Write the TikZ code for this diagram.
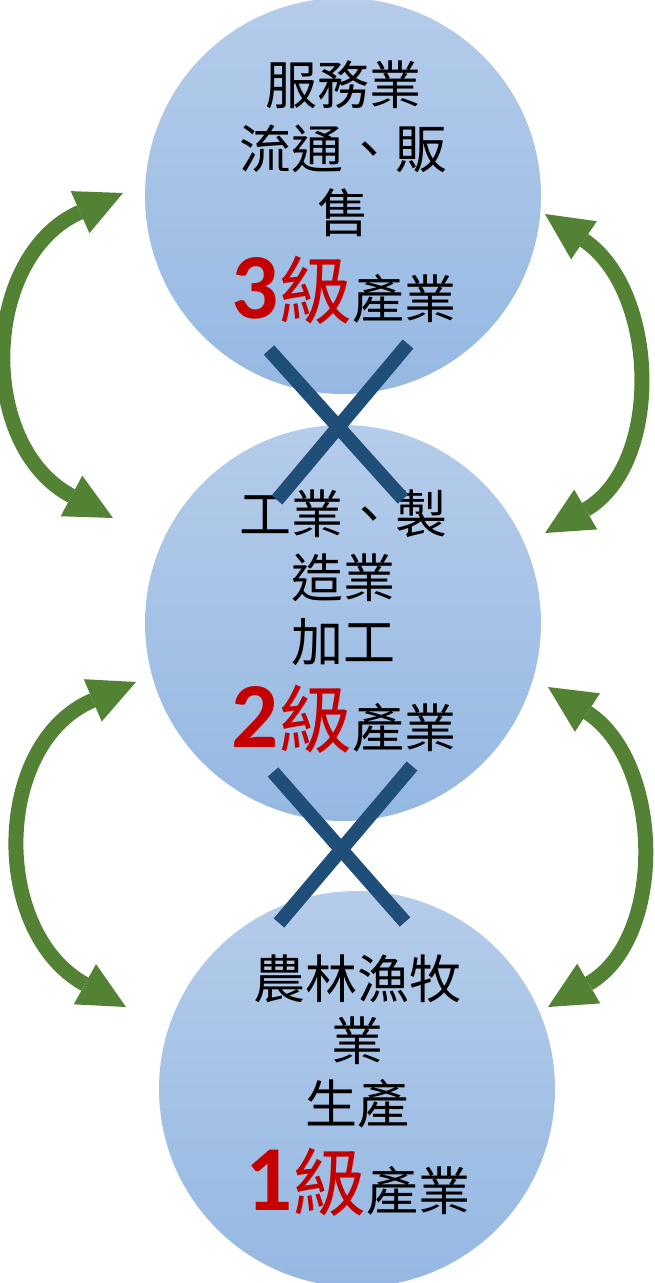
\documentclass[tikz,border=0pt]{standalone}
\usepackage{fontspec}
\newfontfamily\cjk{Noto Sans CJK TC}
\newfontfamily\digfont{Carlito}
\usetikzlibrary{arrows.meta}
\definecolor{cirtop}{RGB}{181,204,234}
\definecolor{cirbot}{RGB}{149,184,226}
\definecolor{arrgreen}{RGB}{84,130,53}
\definecolor{xblue}{RGB}{31,78,121}
\definecolor{lvred}{RGB}{196,0,0}
\newcommand{\lvl}[1]{{\color{lvred}{\digfont\bfseries\fontsize{93}{96}\selectfont #1}{\fontsize{74}{80}\selectfont 級}}}
\begin{document}
\begin{tikzpicture}[x=1pt,y=1pt,
  circ/.style={circle, minimum size=396pt, inner sep=0pt, top color=cirtop, bottom color=cirbot, draw=none},
  txt/.style={anchor=base, inner sep=0pt, font=\cjk\fontsize{52}{60}\selectfont},
  link/.style={draw=arrgreen, line width=15pt,
    arrows={Triangle[length=47pt,width=46pt,line width=0pt]-Triangle[length=47pt,width=46pt,line width=0pt]}},
  cross/.style={draw=xblue, line width=14pt}]
\useasboundingbox (0,0) rectangle (654,-1283);

% circles
\node[circ] (c3) at (343,-196) {};
\node[circ] (c2) at (343,-623) {};
\node[circ] (c1) at (357,-1089) {};

% texts top
\node[txt] (t31) at (343,-104) {服務業};
\node[txt] (t32) at (343,-168) {流通、販};
\node[txt] (t33) at (343,-232) {售};
\node[txt] (t34) at (344,-318) {\lvl{3}產業};

% texts middle
\node[txt] (t21) at (343,-533) {工業、製};
\node[txt] (t22) at (343,-597) {造業};
\node[txt] (t23) at (343,-661) {加工};
\node[txt] (t24) at (344,-747) {\lvl{2}產業};

% texts bottom
\node[txt] (t11) at (357,-998) {農林漁牧};
\node[txt] (t12) at (357,-1060) {業};
\node[txt] (t13) at (357,-1123) {生產};
\node[txt] (t14) at (358,-1210) {\lvl{1}產業};

% arrow end points
\coordinate (lt1) at (123,-193);
\coordinate (lt2) at (113,-518);
\coordinate (rt1) at (545,-214);
\coordinate (rt2) at (545,-533);
\coordinate (lb1) at (136,-682);
\coordinate (lb2) at (126,-1007);
\coordinate (rb1) at (548,-687);
\coordinate (rb2) at (548,-1007);

\draw[link] (lt1) to[out=204,in=152,looseness=1.22] (lt2);
\draw[link] (rt1) to[out=-34,in=30,looseness=1.1] (rt2);
\draw[link] (lb1) to[out=203,in=151,looseness=1.22] (lb2);
\draw[link] (rb1) to[out=-33,in=30,looseness=1.1] (rb2);

% crosses
\coordinate (xa1) at (269,-350);
\coordinate (xa2) at (403,-499);
\coordinate (xb1) at (408,-344);
\coordinate (xb2) at (277,-500);
\draw[cross] (xa1) -- (xa2);
\draw[cross] (xb1) -- (xb2);

\coordinate (ya1) at (273,-772);
\coordinate (ya2) at (405,-922);
\coordinate (yb1) at (412,-766);
\coordinate (yb2) at (279,-923);
\draw[cross] (ya1) -- (ya2);
\draw[cross] (yb1) -- (yb2);
\end{tikzpicture}
\end{document}
